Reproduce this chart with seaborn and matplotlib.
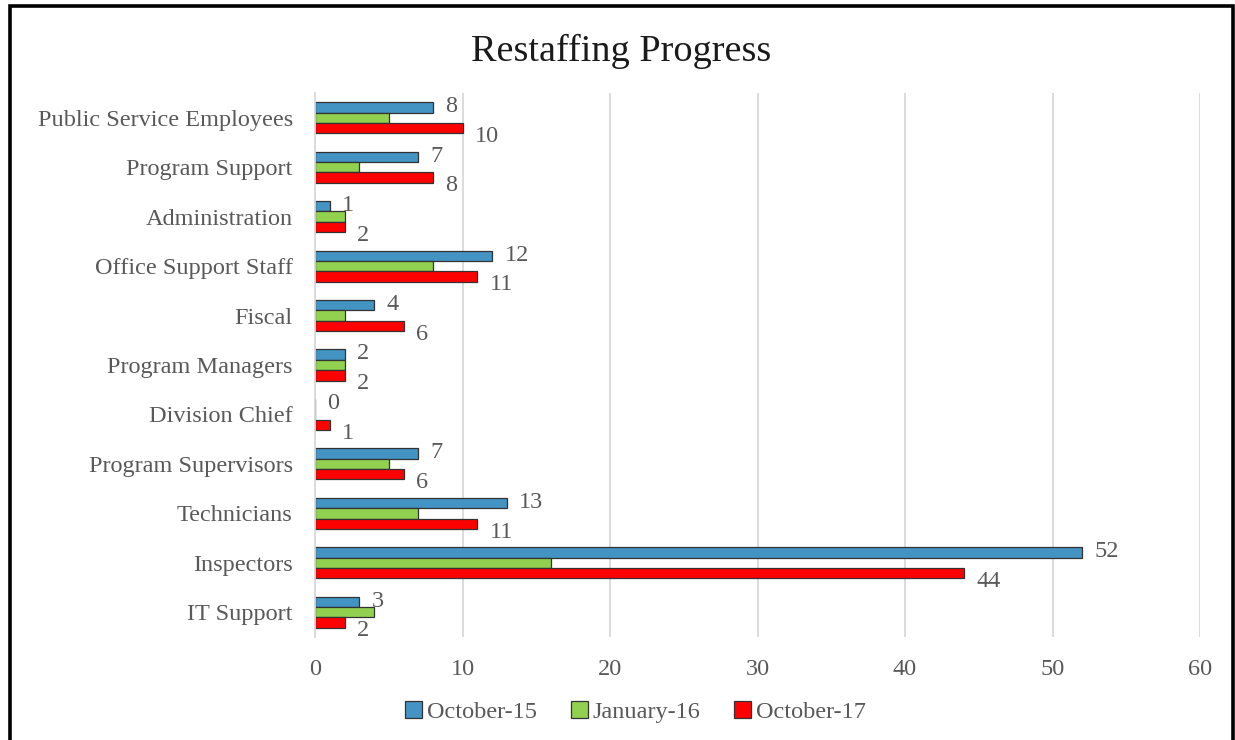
import matplotlib
matplotlib.use("Agg")
import matplotlib.pyplot as plt
from matplotlib.patches import Rectangle
import pandas as pd
import seaborn as sns

categories = [
    "Public Service Employees", "Program Support", "Administration",
    "Office Support Staff", "Fiscal", "Program Managers", "Division Chief",
    "Program Supervisors", "Technicians", "Inspectors", "IT Support",
]
series_names = ["October-15", "January-16", "October-17"]
october_15 = [8, 7, 1, 12, 4, 2, 0, 7, 13, 52, 3]
january_16 = [5, 3, 2, 8, 2, 2, 0, 5, 7, 16, 4]
october_17 = [10, 8, 2, 11, 6, 2, 1, 6, 11, 44, 2]
x_ticks = [0, 10, 20, 30, 40, 50, 60]

colors = ["#4393C3", "#92D050", "#FF0000"]
text_grey = "#595959"

rows = []
for name, vals in zip(series_names, [october_15, january_16, october_17]):
    for cat, v in zip(categories, vals):
        rows.append({"category": cat, "series": name, "value": v})
df = pd.DataFrame(rows)

sns.set_theme(style="white")
plt.rcParams["font.family"] = ["Liberation Serif", "DejaVu Serif"]

fig = plt.figure(figsize=(12.35, 7.40), dpi=100)
ax = fig.add_axes([315 / 1235, 103 / 740, 885 / 1235, 544 / 740])

sns.barplot(
    data=df, y="category", x="value", hue="series", order=categories,
    hue_order=series_names, palette=colors, saturation=1, orient="h",
    width=0.63, edgecolor="#333333", linewidth=0.9, ax=ax, legend=True,
)

ax.set_xlim(0, 60)
ax.set_ylim(len(categories) - 0.5, -0.5)
ax.set_xticks(x_ticks)
ax.set_xticklabels([str(t) for t in x_ticks])
ax.set_xlabel("")
ax.set_ylabel("")
ax.grid(axis="x", color="#d9d9d9", linewidth=1.3)
ax.set_axisbelow(True)
for side in ["top", "right", "bottom"]:
    ax.spines[side].set_visible(False)
ax.spines["left"].set_color("#d9d9d9")
ax.spines["left"].set_linewidth(1.3)
ax.tick_params(axis="both", length=0, labelsize=17.5, colors=text_grey)
ax.tick_params(axis="y", pad=16)
ax.tick_params(axis="x", pad=16)

# value labels for the first and last series
for idx, dy in [(0, 0.5), (2, -6)]:
    anns = ax.bar_label(ax.containers[idx], padding=9, fontsize=17.5, color=text_grey)
    for a in anns:
        a.xyann = (9, dy)

leg = ax.legend(
    loc="upper center", bbox_to_anchor=(0.5 - 122 / 885, -0.078), ncol=3,
    frameon=False, fontsize=17.5, handlelength=0.7, handleheight=0.7,
    handletextpad=0.2, columnspacing=1.4, labelcolor=text_grey,
)

fig.text(0.5 + 4 / 1235, 0.931, "Restaffing Progress", ha="center", va="center",
         fontsize=27.5, color="#1a1a1a")

fig.patches.append(Rectangle((9.5 / 1235, -0.05), (1233 - 9.5) / 1235, 1.05 - 5.5 / 740,
                             transform=fig.transFigure, fill=False,
                             edgecolor="black", linewidth=2.6, clip_on=False))

fig.savefig("out.png", dpi=100, facecolor="white")
